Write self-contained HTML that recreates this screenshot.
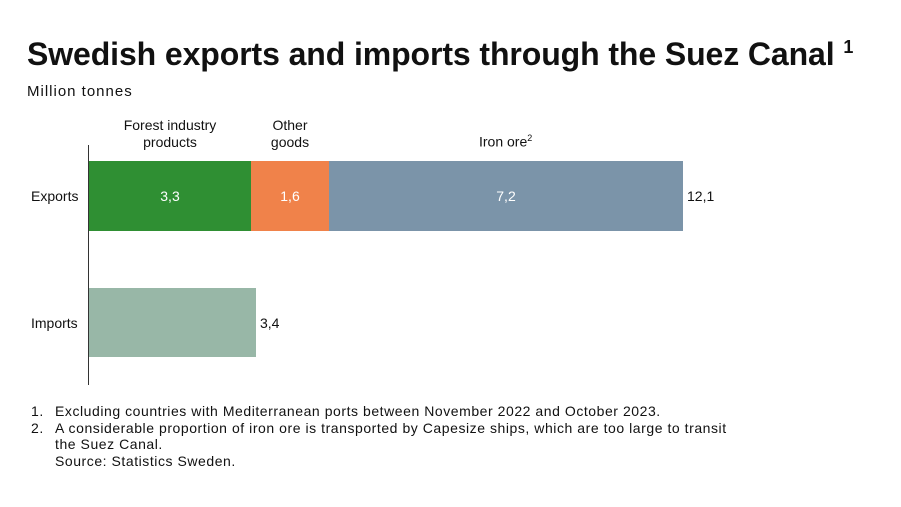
<!DOCTYPE html>
<html><head><meta charset="utf-8"><style>
body{margin:0;width:901px;height:507px;background:#fff;font-family:"Liberation Sans",sans-serif;color:#111;position:relative;overflow:hidden}
div{position:absolute}
.t{left:27px;top:36px;font-size:32px;font-weight:bold;letter-spacing:-0.1px;white-space:nowrap}
.s{font-size:14px;white-space:nowrap}
.c{text-align:center}
</style></head><body>
<div class="t">Swedish exports and imports through the Suez Canal <sup style="font-size:18px;vertical-align:12px">1</sup></div>
<div class="s" style="left:27px;top:83px;font-size:15px;letter-spacing:1px">Million tonnes</div>
<div class="s c" style="left:110px;top:117px;width:120px;line-height:17px">Forest industry<br>products</div>
<div class="s c" style="left:260px;top:117px;width:60px;line-height:17px">Other<br>goods</div>
<div class="s" style="left:479px;top:133px">Iron ore<sup style="font-size:9px">2</sup></div>
<div style="left:88px;top:145px;width:1px;height:240px;background:#333"></div>
<div class="s" style="left:31px;top:188px">Exports</div>
<div class="s" style="left:31px;top:315px">Imports</div>
<div style="left:89px;top:161px;width:162px;height:70px;background:#2f8f33"></div>
<div style="left:251px;top:161px;width:78px;height:70px;background:#f0824a"></div>
<div style="left:329px;top:161px;width:354px;height:70px;background:#7b94a9"></div>
<div style="left:89px;top:288px;width:167px;height:69px;background:#98b7a7"></div>
<div class="s c" style="left:89px;top:188px;width:162px;color:#fff">3,3</div>
<div class="s c" style="left:251px;top:188px;width:78px;color:#fff">1,6</div>
<div class="s c" style="left:329px;top:188px;width:354px;color:#fff">7,2</div>
<div class="s" style="left:687px;top:188px">12,1</div>
<div class="s" style="left:260px;top:315px">3,4</div>
<div class="s" style="left:31px;top:403px;font-size:14px;letter-spacing:0.55px;line-height:16.5px">1.<span style="position:absolute;left:24px">Excluding countries with Mediterranean ports between November 2022 and October 2023.</span><br>2.<span style="position:absolute;left:24px">A considerable proportion of iron ore is transported by Capesize ships, which are too large to transit</span><br><span style="position:relative;left:24px">the Suez Canal.</span><br><span style="position:relative;left:24px">Source: Statistics Sweden.</span></div>
</body></html>
